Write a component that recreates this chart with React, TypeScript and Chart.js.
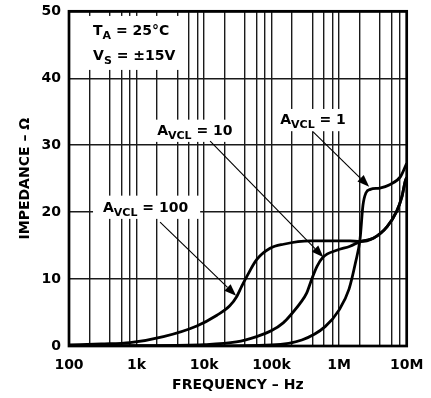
import React, { useEffect, useRef } from 'react';
import { Chart, registerables } from 'chart.js';

Chart.register(...registerables);

const FAMILY = '"DejaVu Sans", sans-serif';
const MAIN = 14;
const SUB = 11;
const SUBDY = 4;

// Axis grid / ticks
const xGridValues = [
  100, 200, 400, 600, 800,
  1000, 2000, 4000, 6000, 8000,
  10000, 20000, 40000, 60000, 80000,
  100000, 200000, 400000, 600000, 800000,
  1000000, 2000000, 4000000, 6000000, 8000000,
  10000000,
];
const xTickValues = [100, 1000, 10000, 100000, 1000000, 10000000];
const xTickLabels = ['100', '1k', '10k', '100k', '1M', '10M'];
const yTickValues = [0, 10, 20, 30, 40, 50];

// A_VCL = 100
const av100Freq = [100, 300, 800, 2500, 7800, 15500, 24000, 30500, 36000, 43000, 60000, 95000, 150000, 370000, 1450000, 2040000, 3200000, 5100000, 7100000, 8500000, 9500000, 10000000];
const av100Z = [0.15, 0.3, 0.5, 1.4, 3.0, 4.6, 6.0, 7.4, 8.9, 10.4, 12.9, 14.6, 15.2, 15.7, 15.7, 15.6, 16.1, 17.8, 20.1, 22.3, 24.6, 25.2];

// A_VCL = 10
const av10Freq = [100, 1000, 10000, 30000, 60000, 100000, 150000, 190000, 265000, 330000, 390000, 470000, 580000, 920000, 1450000, 2040000, 3200000, 5100000, 7100000, 8500000, 9500000, 10000000];
const av10Z = [0, 0.05, 0.2, 0.6, 1.4, 2.3, 3.5, 4.6, 6.4, 7.9, 9.9, 11.9, 13.3, 14.3, 14.9, 15.6, 16.1, 17.8, 20.1, 22.3, 24.6, 25.2];

// A_VCL = 1
const av1Freq = [100, 10000, 100000, 280000, 620000, 1000000, 1400000, 1750000, 2040000, 2250000, 2500000, 2900000, 4000000, 5600000, 8100000, 10000000];
const av1Z = [0, 0, 0.15, 0.9, 2.9, 5.4, 8.5, 12.5, 16.0, 21.0, 22.9, 23.4, 23.6, 24.1, 25.3, 27.3];

type Part = [string, 'n' | 's'];

// Annotation text (anchor: left edge, cap centre, in data coords)
const condLines: { f: number; v: number; parts: Part[] }[] = [
  { f: 227, v: 47.2, parts: [['T', 'n'], ['A', 's'], [' = 25°C', 'n']] },
  { f: 227, v: 43.5, parts: [['V', 'n'], ['S', 's'], [' = ±15V', 'n']] },
];
const gainLabels: { f: number; v: number; parts: Part[]; pad: [number, number, number, number] }[] = [
  { f: 319, v: 20.8, parts: [['A', 'n'], ['VCL', 's'], [' = 100', 'n']], pad: [6, 12, 3, 10] },
  { f: 2020, v: 32.3, parts: [['A', 'n'], ['VCL', 's'], [' = 10', 'n']], pad: [5, 6, 3, 6] },
  { f: 134000, v: 33.9, parts: [['A', 'n'], ['VCL', 's'], [' = 1', 'n']], pad: [5, 7, 3, 6] },
];
// Arrows: tail (f, v) -> tip (f, v)
const arrows: [number, number, number, number][] = [
  [2230, 18.5, 29800, 7.5],
  [12300, 30.6, 585000, 13.26],
  [412000, 32.0, 2780000, 23.8],
];

function partsWidth(ctx: CanvasRenderingContext2D, parts: Part[]) {
  let w = 0;
  for (const [t, k] of parts) {
    ctx.font = `bold ${k === 's' ? SUB : MAIN}px ${FAMILY}`;
    w += ctx.measureText(t).width;
  }
  return w;
}

function drawParts(ctx: CanvasRenderingContext2D, x: number, baseline: number, parts: Part[]) {
  let cx = x;
  for (const [t, k] of parts) {
    ctx.font = `bold ${k === 's' ? SUB : MAIN}px ${FAMILY}`;
    ctx.fillText(t, cx, k === 's' ? baseline + SUBDY : baseline);
    cx += ctx.measureText(t).width;
  }
}

const annotPlugin = {
  id: 'annot',
  afterDatasetsDraw(chart: any) {
    const { ctx, chartArea: a, scales } = chart;
    const xs = scales.x;
    const ys = scales.y;
    const cap = MAIN * 0.73;
    ctx.save();
    ctx.textBaseline = 'alphabetic';
    ctx.textAlign = 'left';

    // conditions box
    {
      const xs0 = condLines.map((l) => xs.getPixelForValue(l.f));
      const cy = condLines.map((l) => ys.getPixelForValue(l.v));
      const widths = condLines.map((l) => partsWidth(ctx, l.parts));
      const left = Math.min(...xs0) - 18;
      const right = Math.max(...xs0.map((x, i) => x + widths[i])) + 4;
      const top = Math.min(...cy) - cap / 2 - 9;
      const bottom = Math.max(...cy) + cap / 2 + SUBDY + 6;
      ctx.fillStyle = '#fff';
      ctx.fillRect(left, top, right - left, bottom - top);
      ctx.fillStyle = '#000';
      condLines.forEach((l, i) => drawParts(ctx, xs0[i], cy[i] + cap / 2, l.parts));
    }

    for (const g of gainLabels) {
      const x = xs.getPixelForValue(g.f);
      const cy = ys.getPixelForValue(g.v);
      const w = partsWidth(ctx, g.parts);
      const [pt, pr, pb, pl] = g.pad;
      const top = cy - cap / 2 - pt;
      const bottom = cy + cap / 2 + SUBDY + pb;
      ctx.fillStyle = '#fff';
      ctx.fillRect(x - pl, top, w + pl + pr, bottom - top);
      ctx.fillStyle = '#000';
      drawParts(ctx, x, cy + cap / 2, g.parts);
    }

    // arrows
    ctx.strokeStyle = '#000';
    ctx.fillStyle = '#000';
    ctx.lineWidth = 1.1;
    for (const [f0, v0, f1, v1] of arrows) {
      const x0 = xs.getPixelForValue(f0);
      const y0 = ys.getPixelForValue(v0);
      const x1 = xs.getPixelForValue(f1);
      const y1 = ys.getPixelForValue(v1);
      const ang = Math.atan2(y1 - y0, x1 - x0);
      const hl = 12;
      const hw = 4.5;
      const bx = x1 - hl * Math.cos(ang);
      const by = y1 - hl * Math.sin(ang);
      ctx.beginPath();
      ctx.moveTo(x0, y0);
      ctx.lineTo(bx, by);
      ctx.stroke();
      ctx.beginPath();
      ctx.moveTo(x1, y1);
      ctx.lineTo(bx + hw * Math.sin(ang), by - hw * Math.cos(ang));
      ctx.lineTo(bx - hw * Math.sin(ang), by + hw * Math.cos(ang));
      ctx.closePath();
      ctx.fill();
    }

    // frame
    ctx.lineWidth = 2.7;
    ctx.strokeRect(a.left, a.top, a.right - a.left, a.bottom - a.top);
    ctx.restore();
  },
};

function toPoints(f: number[], z: number[]) {
  return f.map((x, i) => ({ x, y: z[i] }));
}

function zeroPadding(s: any) {
  s.paddingTop = 0;
  s.paddingBottom = 0;
  s.paddingLeft = 0;
  s.paddingRight = 0;
}

export default function App() {
  const ref = useRef<HTMLCanvasElement>(null);
  useEffect(() => {
    if (!ref.current) return;
    const lineDs = (data: { x: number; y: number }[]) => ({
      data,
      borderColor: '#000',
      borderWidth: 2.8,
      pointRadius: 0,
      fill: false,
      cubicInterpolationMode: 'monotone' as const,
    });
    const tickFont = { family: FAMILY, size: 14, weight: 'bold' as const };
    const chart = new Chart(ref.current, {
      type: 'line',
      data: {
        datasets: [
          lineDs(toPoints(av100Freq, av100Z)),
          lineDs(toPoints(av10Freq, av10Z)),
          lineDs(toPoints(av1Freq, av1Z)),
        ],
      },
      options: {
        animation: false,
        responsive: false,
        maintainAspectRatio: false,
        layout: { padding: { left: 0, right: 24.3, top: 11.3, bottom: 0 } },
        plugins: { legend: { display: false }, tooltip: { enabled: false } },
        scales: {
          x: {
            type: 'logarithmic',
            min: 100,
            max: 10000000,
            afterBuildTicks: (s: any) => {
              s.ticks = xGridValues.map((value) => ({ value }));
            },
            afterFit: (s: any) => {
              s.height = 398 - 346;
              zeroPadding(s);
            },
            ticks: {
              autoSkip: false,
              maxRotation: 0,
              minRotation: 0,
              padding: 11,
              color: '#000',
              font: tickFont,
              callback: (v: any) => {
                const i = xTickValues.findIndex((t) => Math.abs(t - Number(v)) / t < 1e-6);
                return i >= 0 ? xTickLabels[i] : '';
              },
            },
            grid: { color: '#1a1a1a', lineWidth: 1.4, drawTicks: false },
            border: { display: false },
            title: {
              display: true,
              text: 'FREQUENCY – Hz',
              color: '#000',
              font: tickFont,
              padding: { top: 0, bottom: 4.6 },
            },
          },
          y: {
            type: 'linear',
            min: 0,
            max: 50,
            afterBuildTicks: (s: any) => {
              s.ticks = yTickValues.map((value) => ({ value }));
            },
            afterFit: (s: any) => {
              s.width = 69;
              zeroPadding(s);
            },
            ticks: { padding: 8, color: '#000', font: tickFont },
            grid: { color: '#1a1a1a', lineWidth: 1.4, drawTicks: false },
            border: { display: false },
            title: {
              display: true,
              text: 'IMPEDANCE – Ω',
              color: '#000',
              font: tickFont,
              padding: { top: 16.6, bottom: 0 },
            },
          },
        },
      },
      plugins: [annotPlugin],
    });
    return () => chart.destroy();
  }, []);
  return (
    <div style={{ position: 'absolute', left: 0, top: 0, width: 431, height: 398, background: '#fff' }}>
      <canvas ref={ref} width={431} height={398} style={{ display: 'block' }} />
    </div>
  );
}
